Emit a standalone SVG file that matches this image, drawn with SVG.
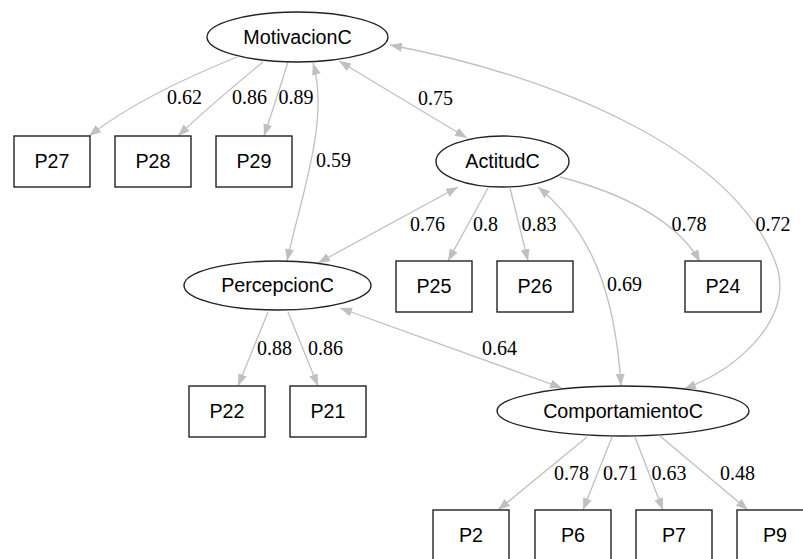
<svg xmlns="http://www.w3.org/2000/svg" width="803" height="559" viewBox="0 0 803 559">
<style>
.n ellipse,.n rect{fill:#fff;stroke:#222;stroke-width:1.4}
.n text{font-family:"Liberation Sans",Arial,sans-serif;font-size:19.7px;text-anchor:middle;fill:#000}
.e path{fill:none;stroke:#c0c0c0;stroke-width:1.3}
.e text{font-family:"Liberation Serif","Times New Roman",serif;font-size:20px;text-anchor:middle;fill:#000}
</style>
<defs>
<marker id="a" markerUnits="userSpaceOnUse" markerWidth="13" markerHeight="10" refX="12" refY="4.5" orient="auto-start-reverse">
<path d="M0,0 L12,4.5 L0,9 z" fill="#c0c0c0"/>
</marker>
</defs>
<rect width="803" height="559" fill="#fff"/>
<g class="e" id="connectors">
<path d="M237,57 C180,80 125,108 89,136" marker-end="url(#a)"/>
<path d="M263,62 C235,85 205,110 178,136" marker-end="url(#a)"/>
<path d="M288,62 C280,88 272,112 264,136" marker-end="url(#a)"/>
<path d="M313,63 C330,120 300,200 287,261" marker-start="url(#a)" marker-end="url(#a)"/>
<path d="M339,61 L467,138" marker-start="url(#a)" marker-end="url(#a)"/>
<path d="M390,45 C550,75 740,150 778,270 C790,320 740,368 684,389" marker-start="url(#a)" marker-end="url(#a)"/>
<path d="M538,187 C590,230 615,290 621,386" marker-start="url(#a)" marker-end="url(#a)"/>
<path d="M560,177 C630,195 680,225 700,262" marker-end="url(#a)"/>
<path d="M488,188 L448,261" marker-end="url(#a)"/>
<path d="M510,188 L528,261" marker-end="url(#a)"/>
<path d="M458,187 L318,263" marker-start="url(#a)" marker-end="url(#a)"/>
<path d="M268,312 L238,386" marker-end="url(#a)"/>
<path d="M288,312 L318,386" marker-end="url(#a)"/>
<path d="M340,308 L562,388" marker-start="url(#a)" marker-end="url(#a)"/>
<path d="M587,437 L498,510" marker-end="url(#a)"/>
<path d="M612,437 L583,510" marker-end="url(#a)"/>
<path d="M635,437 L663,510" marker-end="url(#a)"/>
<path d="M660,436 L748,510" marker-end="url(#a)"/>
<text x="184.5" y="104">0.62</text>
<text x="249.5" y="104">0.86</text>
<text x="296" y="104">0.89</text>
<text x="333.5" y="167">0.59</text>
<text x="435.5" y="105">0.75</text>
<text x="773" y="231">0.72</text>
<text x="624.5" y="291">0.69</text>
<text x="689" y="231">0.78</text>
<text x="485.5" y="231">0.8</text>
<text x="539" y="231">0.83</text>
<text x="427.5" y="231">0.76</text>
<text x="274.5" y="355">0.88</text>
<text x="325.5" y="355">0.86</text>
<text x="499.5" y="355">0.64</text>
<text x="571.5" y="480">0.78</text>
<text x="620.5" y="480">0.71</text>
<text x="669" y="480">0.63</text>
<text x="737.5" y="480">0.48</text>
</g>
<g class="n" id="MotivacionC"><ellipse cx="297.5" cy="37" rx="90.5" ry="25"/><text x="297.5" y="43.5">MotivacionC</text></g>
<g class="n" id="ActitudC"><ellipse cx="502.5" cy="161.5" rx="66.5" ry="25.5"/><text x="502.5" y="168">ActitudC</text></g>
<g class="n" id="PercepcionC"><ellipse cx="277.5" cy="285.5" rx="93.5" ry="24.5"/><text x="277.5" y="292">PercepcionC</text></g>
<g class="n" id="ComportamientoC"><ellipse cx="623" cy="411" rx="126" ry="25"/><text x="623" y="417.5">ComportamientoC</text></g>
<g class="n" id="P27"><rect x="14" y="136" width="76" height="51"/><text x="52" y="168">P27</text></g>
<g class="n" id="P28"><rect x="115" y="136" width="76" height="51"/><text x="153" y="168">P28</text></g>
<g class="n" id="P29"><rect x="216" y="136" width="76" height="51"/><text x="254" y="168">P29</text></g>
<g class="n" id="P25"><rect x="396" y="261" width="76" height="51"/><text x="434" y="293">P25</text></g>
<g class="n" id="P26"><rect x="497" y="261" width="76" height="51"/><text x="535" y="293">P26</text></g>
<g class="n" id="P24"><rect x="685" y="261" width="76" height="51"/><text x="723" y="293">P24</text></g>
<g class="n" id="P22"><rect x="189" y="386" width="76" height="51"/><text x="227" y="418">P22</text></g>
<g class="n" id="P21"><rect x="290" y="386" width="76" height="51"/><text x="328" y="418">P21</text></g>
<g class="n" id="P2"><rect x="433" y="510" width="76" height="51"/><text x="471" y="542">P2</text></g>
<g class="n" id="P6"><rect x="535" y="510" width="76" height="51"/><text x="573" y="542">P6</text></g>
<g class="n" id="P7"><rect x="636" y="510" width="76" height="51"/><text x="674" y="542">P7</text></g>
<g class="n" id="P9"><rect x="737" y="510" width="76" height="51"/><text x="775" y="542">P9</text></g>
</svg>
